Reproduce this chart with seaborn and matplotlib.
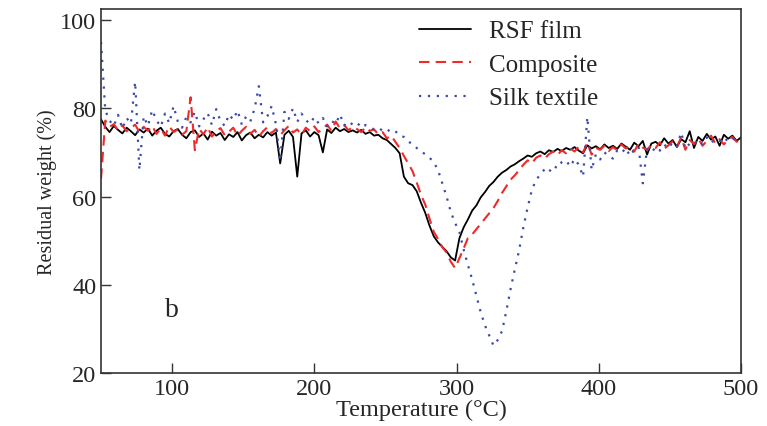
import numpy as np
import pandas as pd
import matplotlib
matplotlib.use("Agg")
import matplotlib.pyplot as plt
import seaborn as sns

# temperature grid, 3 degC steps from 50 to 500
temperature = np.arange(50, 501, 3)

rsf_film = [
    77.5, 75.8, 74.6, 76.0, 75.1, 74.3, 75.6, 74.8, 73.9, 75.2,
    74.5, 75.4, 73.8, 74.9, 75.6, 74.2, 73.6, 74.8, 75.3, 74.0,
    73.2, 74.6, 75.0, 73.5, 74.3, 72.9, 74.7, 73.8, 74.4, 72.8,
    74.1, 73.5, 74.6, 72.7, 73.9, 74.5, 73.2, 74.0, 73.4, 74.6,
    73.8, 74.5, 67.5, 74.0, 74.9, 73.5, 64.5, 74.3, 75.0, 73.6,
    74.6, 73.9, 70.0, 75.2, 74.4, 75.6, 74.8, 75.3, 74.6, 75.0,
    74.5, 75.1, 74.2, 74.6, 73.8, 74.0, 73.2, 72.8, 71.9, 71.0,
    69.8, 64.5, 63.0, 62.6, 61.2, 58.6, 56.3, 53.4, 51.0, 49.6,
    48.6, 47.6, 46.2, 45.5, 50.5, 53.0, 54.8, 56.8, 58.0, 59.8,
    61.0, 62.4, 63.3, 64.5, 65.4, 66.0, 66.8, 67.3, 68.0, 68.6,
    69.3, 69.0, 69.8, 70.2, 69.6, 70.5, 70.1, 70.8, 70.3, 71.0,
    70.6, 71.2, 70.4, 69.8, 71.6, 70.9, 71.4, 70.7, 71.8, 71.0,
    71.5, 70.8, 72.0, 71.3, 70.6, 72.2, 71.4, 72.6, 69.5, 72.0,
    72.4, 71.6, 73.2, 72.0, 72.8, 71.2, 73.0, 72.3, 74.8, 71.0,
    73.5, 72.6, 74.2, 72.9, 73.6, 71.5, 74.0, 73.1, 73.8, 72.6,
    73.4,
]

composite = [
    64.0, 77.2, 75.8, 76.4, 75.0, 76.1, 74.8, 75.5, 76.3, 74.6,
    75.8, 74.9, 76.0, 74.2, 75.4, 73.8, 75.9, 74.6, 75.2, 74.0,
    74.8, 82.5, 70.5, 75.3, 74.1, 75.7, 73.6, 74.8, 75.5, 73.9,
    74.7, 75.6, 73.8, 74.9, 75.8, 74.2, 75.1, 73.6, 74.8, 75.7,
    74.4, 75.3, 73.9, 75.0, 76.0, 74.5, 75.2, 74.0, 75.6, 74.8,
    75.9, 74.6, 75.4, 76.3, 74.9, 77.0, 75.5, 76.2, 75.0, 75.8,
    75.3, 74.6, 75.7, 74.9, 75.2, 74.1, 74.6, 73.2, 73.8, 72.4,
    71.0, 69.2, 67.5, 65.8, 63.2, 60.4, 58.2, 55.0, 52.0, 50.4,
    48.5, 47.3, 45.2, 43.8, 46.0, 48.2, 50.6, 51.4, 52.6, 53.8,
    55.0, 56.2, 57.4, 59.0, 60.8, 62.3, 63.8, 64.8, 66.0, 67.2,
    68.2, 67.5, 68.8, 69.3, 68.6, 69.6, 70.2, 69.4, 70.5, 69.8,
    70.9, 70.2, 71.3, 70.0, 72.2, 69.5, 71.0, 70.6, 71.5, 70.3,
    71.2, 70.5, 71.8, 70.9, 71.4, 70.2, 72.0, 71.1, 70.6, 71.7,
    71.0, 72.3, 70.8, 71.6, 72.5, 71.3, 73.4, 70.6, 72.8, 71.9,
    73.2, 71.5, 72.6, 73.8, 72.0, 73.0, 71.8, 72.9, 73.5, 72.4,
    73.0,
]

silk_textile = [
    95.0, 79.5, 77.2, 76.0, 78.5, 75.4, 77.8, 76.5, 86.0, 66.0,
    78.2, 76.0, 79.6, 77.3, 75.8, 78.8, 76.6, 80.5, 77.0, 75.6,
    78.0, 76.8, 79.2, 75.9, 77.5, 78.9, 76.2, 79.8, 77.1, 76.0,
    78.6, 77.4, 79.5, 76.3, 78.1, 77.0, 79.9, 85.0, 76.8, 78.2,
    80.5, 76.4, 68.0, 79.2, 77.6, 80.0, 76.9, 78.8, 77.3, 76.5,
    78.0, 76.6, 77.8, 75.9, 77.2, 76.4, 78.6, 76.1, 77.0, 76.3,
    76.8, 75.6, 76.2, 75.8, 75.2, 75.6, 74.9, 75.3, 74.5, 74.8,
    73.8, 73.5, 72.4, 72.0, 71.0, 70.2, 69.6, 68.8, 67.8, 66.0,
    63.0, 60.0, 56.5, 54.0, 52.0, 48.0, 44.5, 41.2, 37.5, 33.8,
    30.8, 28.5, 26.2, 27.5, 29.5, 34.0, 39.0, 43.5, 47.8, 53.0,
    57.5, 61.5, 63.8, 65.0, 66.2, 65.5, 67.0, 66.4, 67.8, 68.2,
    66.8, 68.5, 67.2, 64.5, 78.0, 66.0, 69.6, 68.4, 70.0, 69.2,
    68.6, 70.4, 69.8, 71.0, 69.2, 70.6, 71.3, 63.0, 70.8, 69.9,
    71.2, 70.4, 71.8, 70.9, 72.3, 71.5, 74.5, 70.8, 72.0, 71.6,
    72.8, 71.9, 73.4, 72.2, 73.0, 72.6, 73.5, 72.4, 73.1, 72.8,
    73.2,
]

sns.set_style("ticks")
plt.rcParams['font.family'] = ['Liberation Serif', 'DejaVu Serif']

fig = plt.figure(figsize=(7.67, 4.27), dpi=100)
ax = fig.add_axes([0.1317, 0.1241, 0.8343, 0.8525])

sns.lineplot(x=temperature, y=rsf_film, ax=ax, color="black", lw=1.3,
             estimator=None, label="RSF film")
sns.lineplot(x=temperature, y=composite, ax=ax, color="#ee2a2a", lw=1.5,
             estimator=None, label="Composite", dashes=False)
sns.lineplot(x=temperature, y=silk_textile, ax=ax, color="#3b4ba5", lw=1.6,
             estimator=None, label="Silk textile", dashes=False)
ax.lines[1].set_linestyle((0, (5, 3)))
ax.lines[2].set_linestyle((0, (1, 3)))

ax.set_xlim(50, 500)
ax.set_ylim(20, 102.5)
ax.set_xticks([100, 200, 300, 400, 500])
ax.set_yticks([20, 40, 60, 80, 100])
ax.tick_params(direction="in", length=7, width=1, labelsize=17.5, color="#333333")
for s in ax.spines.values():
    s.set_color("#333333")
    s.set_linewidth(1.2)

ax.set_xlabel("Temperature (\u00b0C)", fontsize=17.5, labelpad=0)
ax.set_ylabel("Residual weight (%)", fontsize=14.5, labelpad=2)
ax.text(95, 33, "b", fontsize=20)

leg = ax.legend(loc="upper left", bbox_to_anchor=(0.469, 1.018), frameon=False,
                fontsize=18, handlelength=2.1, handletextpad=0.7,
                labelspacing=0.44, borderaxespad=0.3)

fig.savefig("out.png", dpi=100)
